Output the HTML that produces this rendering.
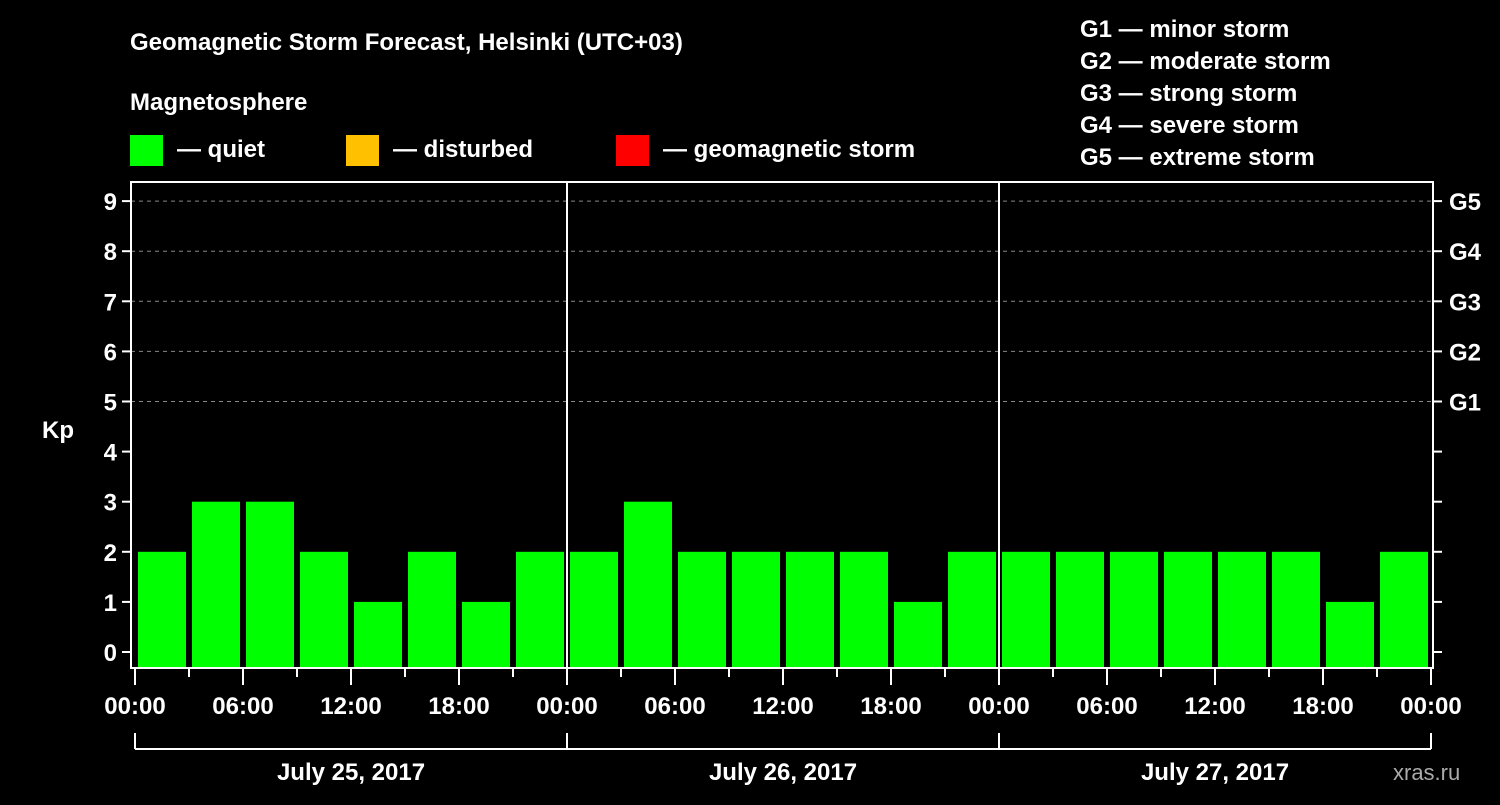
<!DOCTYPE html>
<html><head><meta charset="utf-8"><style>
body{margin:0;background:#000;width:1500px;height:800px;overflow:hidden}
text{font-family:"Liberation Sans",sans-serif;font-weight:bold;fill:#fff}
</style></head><body>
<svg id="c" width="1500" height="800">
<text x="130" y="50" font-size="24">Geomagnetic Storm Forecast, Helsinki (UTC+03)</text>
<text x="130" y="110" font-size="24">Magnetosphere</text>
<g><rect x="130" y="135" width="33" height="31" fill="#00ff00"/><text x="177" y="157" font-size="24">— quiet</text></g>
<g><rect x="346" y="135" width="33" height="31" fill="#ffc000"/><text x="393" y="157" font-size="24">— disturbed</text></g>
<g><rect x="616" y="135" width="33" height="31" fill="#ff0000"/><text x="663" y="157" font-size="24">— geomagnetic storm</text></g>
<g font-size="24">
<text x="1080" y="37">G1 — minor storm</text><text x="1080" y="69">G2 — moderate storm</text><text x="1080" y="101">G3 — strong storm</text><text x="1080" y="133">G4 — severe storm</text><text x="1080" y="165">G5 — extreme storm</text></g>
<text x="42" y="438" font-size="24">Kp</text>
<text x="1393" y="780" font-size="22" style="fill:#aaa;font-weight:normal">xras.ru</text>
<g id="plot"></g>
</svg>
<script>
const kpValues=[2,3,3,2,1,2,1,2, 2,3,2,2,2,2,1,2, 2,2,2,2,2,2,1,2];
const dayLabels=["July 25, 2017","July 26, 2017","July 27, 2017"];
const timeLabels=["00:00","06:00","12:00","18:00"];
const gLabels=["G1","G2","G3","G4","G5"];
const NS="http://www.w3.org/2000/svg";
const g=document.getElementById('plot');
const X0=135,DAY=432,L=131,R=1433,T=182,B=668;
const xs=h=>X0+h/24*DAY;
const ys=k=>652-k*50.1;
function mk(t,a){const e=document.createElementNS(NS,t);for(const k in a)e.setAttribute(k,a[k]);g.appendChild(e);return e;}
for(let k=5;k<=9;k++){const e=mk('line',{x1:L,x2:R,y1:ys(k),y2:ys(k),stroke:'#888','stroke-dasharray':'4,4'});

}
kpValues.forEach((v,i)=>{const x=xs(i*3)+3;const e=mk('rect',{x:x,y:ys(v),width:xs(3)-xs(0)-6,height:B-ys(v),fill:v>=5?'#ff0000':(v>=4?'#ffc000':'#00ff00')});

});
const f=mk('rect',{x:L,y:T,width:R-L,height:B-T,fill:'none',stroke:'#fff','stroke-width':2});


for(let d=1;d<dayLabels.length;d++){const e=mk('line',{x1:xs(d*24),x2:xs(d*24),y1:T,y2:B,stroke:'#fff','stroke-width':2});

}
for(let k=0;k<=9;k++){
mk('line',{x1:122,x2:L,y1:ys(k),y2:ys(k),stroke:'#fff','stroke-width':2});
mk('line',{x1:R,x2:1442,y1:ys(k),y2:ys(k),stroke:'#fff','stroke-width':2});
const t=mk('text',{x:117,y:ys(k)+9,'font-size':24,'text-anchor':'end'});t.textContent=k;


if(k>=5){const r=mk('text',{x:1449,y:ys(k)+9,'font-size':24});r.textContent=gLabels[k-5];

}}
const nd=dayLabels.length;
for(let h=0;h<=nd*24;h+=3){const maj=h%6==0;mk('line',{x1:xs(h),x2:xs(h),y1:B,y2:maj?685:677,stroke:'#fff','stroke-width':2});
if(maj){const t=mk('text',{x:xs(h),y:714,'font-size':24,'text-anchor':'middle'});t.textContent=timeLabels[(h%24)/6];

}}
mk('line',{x1:xs(0),x2:xs(nd*24),y1:749,y2:749,stroke:'#fff','stroke-width':2});
for(let d=0;d<=nd;d++)mk('line',{x1:xs(d*24),x2:xs(d*24),y1:733,y2:749,stroke:'#fff','stroke-width':2});
dayLabels.forEach((s,d)=>{const t=mk('text',{x:xs(d*24+12),y:780,'font-size':24,'text-anchor':'middle'});t.textContent=s;

});
</script>
</body></html>
